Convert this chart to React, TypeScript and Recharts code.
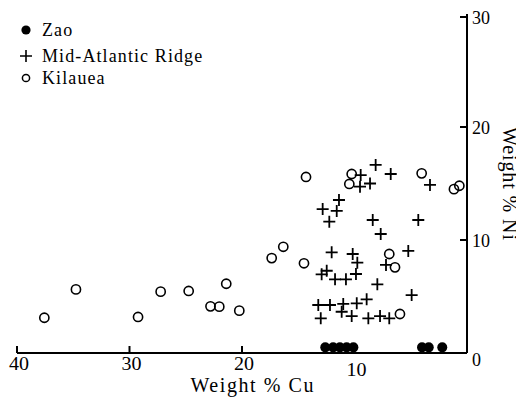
import React from 'react';
import { ScatterChart, Scatter, XAxis, YAxis, Legend } from 'recharts';

const seriesNames = ['Zao', 'Mid-Atlantic Ridge', 'Kilauea'];

const zaoCu = [12.6, 11.9, 11.3, 10.7, 10.1, 4.0, 3.4, 2.2];
const zaoNi = [0.5, 0.5, 0.5, 0.5, 0.5, 0.5, 0.5, 0.5];

const marCu = [8.12, 6.78, 9.45, 8.62, 9.51, 3.29, 11.38, 12.83, 11.58, 12.24, 8.38, 4.33, 7.67,
  12.03, 10.16, 9.75, 5.22, 12.92, 12.47, 11.73, 10.76, 9.87, 7.2, 7.97, 4.92, 8.92, 9.8,
  13.22, 12.18, 11.0, 11.14, 13.0, 10.25, 8.77, 7.73, 6.91];
const marNi = [16.64, 15.84, 15.75, 15.0, 14.72, 14.87, 13.54, 12.74, 12.57, 11.62, 11.77, 11.77, 10.53,
  8.91, 8.76, 7.99, 9.03, 6.96, 7.28, 6.52, 6.52, 6.99, 7.79, 6.08, 5.13, 4.75, 4.4,
  4.25, 4.25, 4.34, 3.65, 3.07, 3.27, 3.07, 3.27, 3.07];

const kilCu = [37.57, 34.76, 29.24, 27.23, 24.74, 22.8, 22.02, 21.4, 20.24, 17.36, 16.33, 14.49,
  14.31, 10.25, 10.46, 4.03, 1.16, 0.68, 6.91, 6.4, 5.96];
const kilNi = [3.12, 5.63, 3.19, 5.43, 5.49, 4.13, 4.1, 6.13, 3.75, 8.4, 9.4, 7.94,
  15.58, 15.84, 14.96, 15.9, 14.5, 14.8, 8.76, 7.58, 3.45];

const xTicks = [0, 10, 20, 30, 40];
const yTicks = [0, 10, 20, 30];

const zip = (xs: number[], ys: number[]) => xs.map((x, i) => ({ cu: x, ni: ys[i] }));
const zaoData = zip(zaoCu, zaoNi);
const marData = zip(marCu, marNi);
const kilData = zip(kilCu, kilNi);

const FONT = '"Liberation Serif", "Times New Roman", serif';

const Dot = (p: any) => <circle cx={p.cx} cy={p.cy} r={5} fill="#000" />;
const Ring = (p: any) => (
  <circle cx={p.cx} cy={p.cy} r={4.6} fill="none" stroke="#000" strokeWidth={1.6} />
);
const Cross = (p: any) => (
  <path
    d={`M${p.cx - 6},${p.cy}H${p.cx + 6}M${p.cx},${p.cy - 6}V${p.cy + 6}`}
    stroke="#000"
    strokeWidth={1.8}
    fill="none"
  />
);

const XTick = (p: any) => {
  const v = p.payload.value;
  if (v === 0) return null;
  return (
    <g>
      <line x1={p.x} x2={p.x} y1={p.y} y2={p.y - 7} stroke="#000" strokeWidth={2} />
      <text x={p.x + 2} y={p.y + (v === 10 ? 17 : 11)} dy="0.35em" textAnchor="middle" fontSize={18} fontFamily={FONT} fill="#000" textLength={20} lengthAdjust="spacingAndGlyphs">
        {v}
      </text>
    </g>
  );
};

const YTick = (p: any) => {
  const v = p.payload.value;
  return (
    <g>
      {v !== 0 && <line x1={p.x - 7} x2={p.x} y1={p.y} y2={p.y} stroke="#000" strokeWidth={2} />}
      <text x={p.x + 5} y={p.y + (v === 0 ? 7 : 1)} dy="0.35em" textAnchor="start" fontSize={18} fontFamily={FONT} fill="#000">
        {v}
      </text>
    </g>
  );
};

const LegendContent = () => {
  const icons = [
    <circle cx={9} cy={9} r={4.6} fill="#000" />,
    <path d="M3,9H15M9,3V15" stroke="#000" strokeWidth={1.6} />,
    <circle cx={9} cy={9} r={3.6} fill="none" stroke="#000" strokeWidth={1.5} />,
  ];
  const centers = [22, 47.5, 69.5];
  return (
    <div style={{ position: 'relative', width: 230, height: 90, fontFamily: FONT }}>
      {seriesNames.map((n, i) => (
        <div key={n} style={{ position: 'absolute', left: 0, top: centers[i] - 11, height: 22, display: 'flex', alignItems: 'center' }}>
          <svg width={18} height={18} style={{ marginLeft: 9, marginRight: 7 }}>{icons[i]}</svg>
          <span style={{ fontSize: 18, lineHeight: '22px', color: '#000', whiteSpace: 'nowrap', letterSpacing: 1.1 }}>{n}</span>
        </div>
      ))}
    </div>
  );
};

export default function App() {
  return (
    <div style={{ width: 516, height: 391, fontFamily: FONT }}>
      <ScatterChart width={516} height={391} margin={{ top: 6, left: 9, right: 7, bottom: 6 }}>
        <XAxis
          type="number"
          dataKey="cu"
          domain={[0, 40]}
          ticks={xTicks}
          reversed
          height={40}
          tickSize={0}
          tickMargin={0}
          tickLine={false}
          tick={<XTick />}
          axisLine={{ stroke: '#000', strokeWidth: 2 }}
          label={(props: any) => {
            const vb = props.viewBox;
            return (
              <text x={vb.x + vb.width / 2 + 10} y={vb.y + 39} textAnchor="middle" fontSize={20} fontFamily={FONT} fill="#000" textLength={123} lengthAdjust="spacing">
                Weight % Cu
              </text>
            );
          }}
        />
        <YAxis
          type="number"
          dataKey="ni"
          orientation="right"
          domain={[0, 30]}
          ticks={yTicks}
          width={50}
          tickSize={0}
          tickMargin={0}
          tickLine={false}
          tick={<YTick />}
          axisLine={{ stroke: '#000', strokeWidth: 2 }}
          label={(props: any) => {
            const vb = props.viewBox;
            const cx = vb.x + 43;
            const cy = vb.y + vb.height / 2;
            return (
              <text x={cx} y={cy} dy="0.35em" textAnchor="middle" transform={`rotate(90 ${cx} ${cy})`} fontSize={20} fontFamily={FONT} fill="#000" textLength={113} lengthAdjust="spacing">
                Weight % Ni
              </text>
            );
          }}
        />
        <Legend
          layout="vertical"
          align="center"
          verticalAlign="middle"
          content={<LegendContent />}
          wrapperStyle={{ left: 0, top: 0, width: 230, height: 90 }}
        />
        <Scatter name="Kilauea" data={kilData} shape={Ring} isAnimationActive={false} />
        <Scatter name="Mid-Atlantic Ridge" data={marData} shape={Cross} isAnimationActive={false} />
        <Scatter name="Zao" data={zaoData} shape={Dot} isAnimationActive={false} />
      </ScatterChart>
    </div>
  );
}
